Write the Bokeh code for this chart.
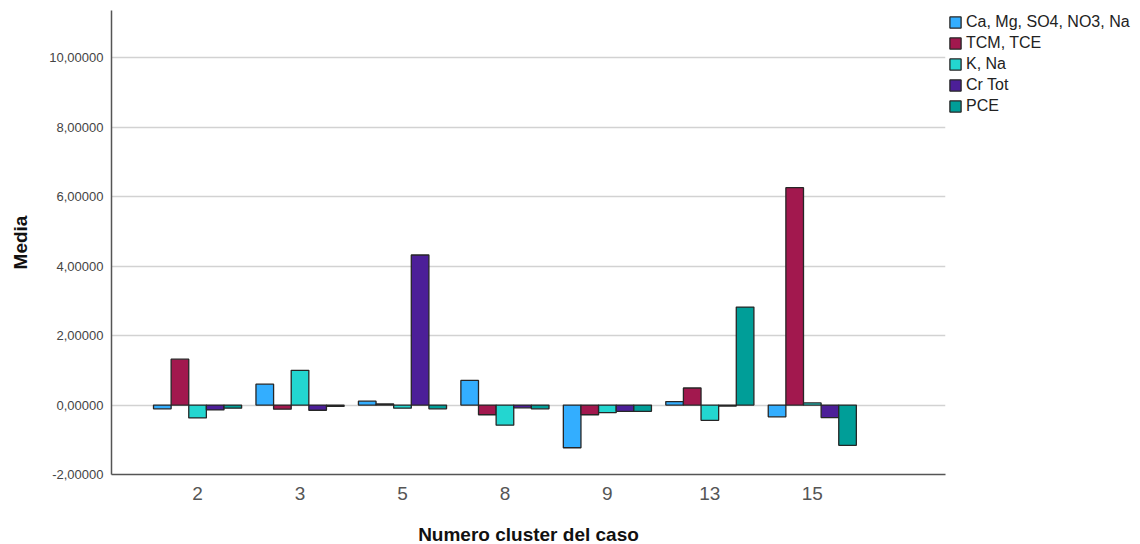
from bokeh.plotting import figure
from bokeh.models import (ColumnDataSource, FixedTicker, CustomJSTickFormatter,
                          Legend, LegendItem, Range1d)
from bokeh.transform import dodge
from bokeh.embed import file_html
from bokeh.resources import INLINE

# Mean standardized value per cluster
clusters = ["2", "3", "5", "8", "9", "13", "15"]
series_names = ["Ca, Mg, SO4, NO3, Na", "TCM, TCE", "K, Na", "Cr Tot", "PCE"]
ca_mg_so4 = [-0.11, 0.60, 0.11, 0.71, -1.23, 0.10, -0.34]
tcm_tce = [1.32, -0.12, 0.03, -0.28, -0.28, 0.49, 6.26]
k_na = [-0.37, 1.00, -0.09, -0.58, -0.22, -0.44, 0.06]
cr_tot = [-0.14, -0.15, 4.32, -0.08, -0.18, -0.03, -0.36]
pce = [-0.09, -0.04, -0.11, -0.11, -0.18, 2.82, -1.16]
y_ticks = [-2, 0, 2, 4, 6, 8, 10]

colors = ["#33AEFF", "#A2184E", "#23D6D0", "#4C1F98", "#009E98"]
columns = ["ca", "tcm", "kna", "cr", "pce"]

source = ColumnDataSource(dict(
    x=list(range(len(clusters))),
    ca=ca_mg_so4, tcm=tcm_tce, kna=k_na, cr=cr_tot, pce=pce,
))

FONT = "Liberation Sans"

p = figure(
    frame_width=834, frame_height=464,
    min_border_left=111, min_border_top=10, min_border_bottom=70, min_border_right=195,
    x_range=Range1d(-0.84, 7.30), y_range=Range1d(-2, 11.36),
    output_backend="svg", toolbar_location=None,
)

bar_w = 0.172
offsets = [-2 * bar_w, -bar_w, 0, bar_w, 2 * bar_w]
renderers = []
for col, color, off in zip(columns, colors, offsets):
    r = p.vbar(x=dodge("x", off, range=p.x_range), top=col, bottom=0, width=bar_w,
               source=source, fill_color=color, line_color="#262626", line_width=1.3)
    renderers.append(r)

legend = Legend(
    items=[LegendItem(label=name, renderers=[r]) for name, r in zip(series_names, renderers)],
    location="top_left", margin=0, padding=3, spacing=3,
    glyph_width=14, glyph_height=14, label_standoff=4, label_height=14,
    label_text_font=FONT, label_text_font_size="16px", label_text_color="#222222",
    border_line_alpha=0, background_fill_alpha=0,
)
p.add_layout(legend, "right")

# Axes
p.xaxis.ticker = FixedTicker(ticks=list(range(len(clusters))))
p.xaxis.major_label_overrides = {i: c for i, c in enumerate(clusters)}
p.yaxis.ticker = FixedTicker(ticks=y_ticks)
p.yaxis.formatter = CustomJSTickFormatter(code="return tick.toFixed(5).replace('.', ',');")

p.xaxis.axis_label = "Numero cluster del caso"
p.yaxis.axis_label = "Media"
for ax in (p.xaxis, p.yaxis):
    ax.axis_label_text_font = FONT
    ax.axis_label_text_font_style = "bold"
    ax.axis_label_text_font_size = "19px"
    ax.axis_label_text_color = "#111111"
    ax.major_label_text_font = FONT
    ax.major_tick_line_color = None
    ax.minor_tick_line_color = None
    ax.major_tick_out = 0
    ax.major_tick_in = 0
    ax.minor_tick_out = 0
    ax.minor_tick_in = 0
    ax.axis_line_color = "#555555"
    ax.axis_line_width = 1.5

p.xaxis.major_label_text_font_size = "19px"
p.xaxis.major_label_text_color = "#555555"
p.xaxis.major_label_standoff = 12
p.xaxis.axis_label_standoff = 21
p.yaxis.major_label_text_font_size = "13px"
p.yaxis.major_label_text_color = "#444444"
p.yaxis.major_label_standoff = 8
p.yaxis.axis_label_standoff = 15

p.xgrid.grid_line_color = None
p.ygrid.grid_line_color = "#d2d2d2"
p.ygrid.grid_line_width = 1.5
p.outline_line_color = None
p.background_fill_color = "white"
p.border_fill_color = "white"

open("out.html", "w").write(file_html(p, INLINE))
